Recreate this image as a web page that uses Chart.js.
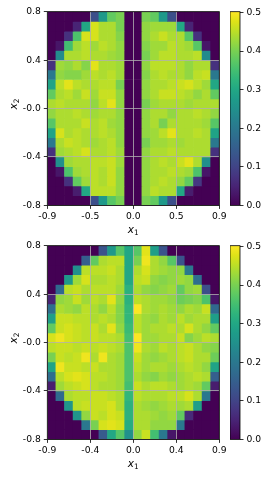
<!DOCTYPE html>
<html>
<head>
<meta charset="utf-8">
<script src="https://cdn.jsdelivr.net/npm/chart.js@4.4.0/dist/chart.umd.min.js"></script>
<style>
body{margin:0;background:#fff;width:270px;height:477px;position:relative;overflow:hidden}
canvas{position:absolute;left:0}
</style>
</head>
<body>
<canvas id="map1" width="270" height="238" style="top:0"></canvas>
<canvas id="cb1" width="40" height="238" style="top:0;left:230px"></canvas>
<canvas id="map2" width="270" height="238" style="top:234px"></canvas>
<canvas id="cb2" width="40" height="238" style="top:234px;left:230px"></canvas>
<script>
// tick labels
var xTicksTop = ['-0.9', '-0.5', '0.0', '0.5', '0.9'];
var xTicksBottom = ['-0.9', '-0.4', '0.0', '0.4', '0.9'];
var yTicks = ['-0.8', '-0.4', '-0.0', '0.4', '0.8'];
var cbMax = 0.502;

// cell values, row 0 = top (x2 = 0.8), column 0 = left (x1 = -0.9)
var topGrid = [
  [0,0,0,0,0,0.12,0.27,0.38,0.40,0,0,0.40,0.38,0.27,0.12,0,0,0,0,0],
  [0,0,0,0.05,0.30,0.47,0.44,0.44,0.40,0,0,0.42,0.43,0.43,0.43,0.30,0.05,0,0,0],
  [0,0,0.07,0.36,0.47,0.47,0.44,0.44,0.41,0,0,0.42,0.44,0.46,0.44,0.44,0.37,0.07,0,0],
  [0,0.03,0.35,0.43,0.45,0.43,0.45,0.44,0.42,0,0,0.41,0.43,0.43,0.45,0.44,0.43,0.37,0.03,0],
  [0,0.24,0.44,0.44,0.45,0.44,0.44,0.43,0.42,0,0,0.40,0.43,0.45,0.45,0.44,0.44,0.45,0.24,0],
  [0.07,0.43,0.42,0.44,0.41,0.48,0.44,0.44,0.43,0,0,0.42,0.45,0.45,0.45,0.44,0.42,0.44,0.44,0.07],
  [0.20,0.42,0.41,0.41,0.43,0.45,0.44,0.45,0.43,0,0,0.41,0.44,0.45,0.44,0.44,0.42,0.45,0.46,0.20],
  [0.29,0.45,0.48,0.45,0.44,0.44,0.45,0.45,0.40,0,0,0.42,0.44,0.44,0.45,0.46,0.47,0.45,0.43,0.30],
  [0.38,0.44,0.45,0.43,0.46,0.43,0.46,0.46,0.42,0,0,0.42,0.44,0.46,0.46,0.45,0.44,0.42,0.44,0.38],
  [0.44,0.45,0.44,0.44,0.44,0.42,0.45,0.48,0.42,0,0,0.40,0.43,0.44,0.44,0.44,0.43,0.44,0.44,0.44],
  [0.42,0.44,0.44,0.45,0.44,0.43,0.44,0.44,0.42,0,0,0.42,0.44,0.44,0.42,0.44,0.44,0.45,0.44,0.42],
  [0.37,0.44,0.44,0.44,0.46,0.44,0.45,0.43,0.42,0,0,0.42,0.44,0.40,0.44,0.44,0.44,0.44,0.43,0.37],
  [0.29,0.47,0.44,0.45,0.44,0.44,0.45,0.44,0.42,0,0,0.42,0.43,0.45,0.48,0.44,0.44,0.45,0.44,0.29],
  [0.20,0.44,0.46,0.45,0.44,0.43,0.44,0.45,0.42,0,0,0.40,0.43,0.43,0.44,0.43,0.44,0.44,0.44,0.20],
  [0.07,0.43,0.44,0.45,0.47,0.44,0.44,0.45,0.43,0,0,0.42,0.44,0.44,0.45,0.44,0.44,0.44,0.44,0.07],
  [0,0.25,0.43,0.44,0.44,0.45,0.45,0.46,0.43,0,0,0.42,0.44,0.45,0.44,0.46,0.48,0.44,0.25,0],
  [0,0.03,0.36,0.43,0.44,0.45,0.44,0.46,0.42,0,0,0.42,0.44,0.44,0.45,0.44,0.43,0.36,0.03,0],
  [0,0,0.07,0.38,0.43,0.45,0.44,0.46,0.42,0,0,0.42,0.44,0.45,0.44,0.42,0.38,0.08,0,0],
  [0,0,0,0.04,0.30,0.45,0.45,0.45,0.42,0,0,0.42,0.45,0.44,0.44,0.30,0.04,0,0,0],
  [0,0,0,0,0,0.12,0.27,0.37,0.40,0,0,0.40,0.38,0.27,0.12,0,0,0,0,0]
];

var bottomGrid = [
  [0,0,0,0,0,0,0.13,0.27,0.37,0.30,0.37,0.48,0.28,0.13,0,0,0,0,0,0],
  [0,0,0,0,0.15,0.38,0.44,0.45,0.45,0.30,0.40,0.49,0.44,0.42,0.37,0.13,0,0,0,0],
  [0,0,0,0.25,0.45,0.45,0.45,0.46,0.44,0.30,0.44,0.47,0.44,0.43,0.42,0.42,0.20,0,0,0],
  [0,0,0.27,0.43,0.47,0.44,0.44,0.45,0.44,0.30,0.45,0.46,0.42,0.41,0.42,0.43,0.42,0.18,0,0],
  [0,0.17,0.45,0.46,0.44,0.45,0.45,0.45,0.43,0.32,0.44,0.42,0.41,0.42,0.43,0.38,0.42,0.43,0.12,0],
  [0.05,0.42,0.43,0.46,0.43,0.45,0.44,0.48,0.42,0.32,0.45,0.44,0.43,0.43,0.42,0.39,0.40,0.41,0.36,0.03],
  [0.18,0.44,0.43,0.42,0.45,0.44,0.42,0.45,0.41,0.33,0.50,0.44,0.43,0.44,0.43,0.42,0.44,0.43,0.46,0.17],
  [0.28,0.46,0.46,0.45,0.45,0.44,0.45,0.44,0.41,0.33,0.45,0.43,0.42,0.44,0.43,0.45,0.43,0.44,0.44,0.28],
  [0.38,0.46,0.47,0.46,0.45,0.46,0.44,0.48,0.42,0.34,0.45,0.43,0.44,0.44,0.45,0.44,0.47,0.44,0.42,0.38],
  [0.47,0.49,0.47,0.46,0.45,0.46,0.45,0.45,0.44,0.35,0.50,0.43,0.43,0.44,0.44,0.46,0.41,0.43,0.45,0.44],
  [0.45,0.46,0.46,0.45,0.46,0.45,0.46,0.45,0.44,0.36,0.49,0.44,0.43,0.45,0.44,0.45,0.46,0.44,0.42,0.41],
  [0.40,0.46,0.45,0.46,0.49,0.44,0.49,0.44,0.43,0.36,0.46,0.43,0.42,0.43,0.44,0.45,0.46,0.44,0.44,0.39],
  [0.29,0.49,0.46,0.46,0.45,0.46,0.44,0.44,0.43,0.36,0.45,0.43,0.44,0.44,0.43,0.44,0.45,0.44,0.42,0.29],
  [0.18,0.45,0.47,0.48,0.47,0.45,0.45,0.44,0.43,0.36,0.44,0.42,0.41,0.43,0.42,0.43,0.44,0.45,0.44,0.15],
  [0.04,0.43,0.45,0.46,0.47,0.45,0.44,0.44,0.43,0.35,0.46,0.44,0.45,0.45,0.44,0.43,0.44,0.43,0.38,0.04],
  [0,0.17,0.44,0.45,0.45,0.46,0.46,0.45,0.44,0.33,0.45,0.44,0.44,0.44,0.45,0.45,0.47,0.44,0.20,0],
  [0,0,0.26,0.45,0.46,0.46,0.46,0.47,0.44,0.32,0.44,0.43,0.42,0.43,0.44,0.43,0.44,0.28,0,0],
  [0,0,0,0.26,0.42,0.46,0.45,0.47,0.46,0.32,0.44,0.44,0.43,0.42,0.43,0.38,0.06,0,0,0],
  [0,0,0,0,0.20,0.40,0.47,0.48,0.47,0.31,0.44,0.44,0.42,0.42,0.42,0.20,0,0,0,0],
  [0,0,0,0,0,0,0.14,0.30,0.37,0.25,0.42,0.46,0.35,0.20,0.03,0,0,0,0,0]
];

// viridis, every 5%
var viridis = ['#440154','#471365','#482475','#463480','#414487','#3b528b','#355f8d','#2f6c8e',
  '#2a788e','#25848e','#21918c','#1e9c89','#22a884','#2fb47c','#44bf70','#5ec962',
  '#7ad151','#9bd93c','#bddf26','#dfe318','#fde725'];

function hexRgb(h) {
  return [parseInt(h.substr(1, 2), 16), parseInt(h.substr(3, 2), 16), parseInt(h.substr(5, 2), 16)];
}

function viridisColor(v) {
  var t = Math.max(0, Math.min(1, v / cbMax)) * (viridis.length - 1);
  var i = Math.min(Math.floor(t), viridis.length - 2);
  var f = t - i;
  var a = hexRgb(viridis[i]), b = hexRgb(viridis[i + 1]);
  var rgb = a.map(function(x, k) { return Math.round(x + (b[k] - x) * f); });
  return 'rgb(' + rgb.join(',') + ')';
}

Chart.defaults.font.family = 'DejaVu Sans';
Chart.defaults.font.size = 9.2;
Chart.defaults.color = '#000';

// one floating-bar dataset per row of cells
function rowsToDatasets(grid) {
  var n = grid.length;
  return grid.map(function(row, r) {
    return {
      data: row.map(function(v, c) { return {x: c + 0.5, y: [n - 1 - r, n - r]}; }),
      backgroundColor: row.map(viridisColor),
      borderWidth: 0,
      grouped: false,
      barPercentage: 1,
      categoryPercentage: 1
    };
  });
}

var frame = {
  id: 'frame',
  afterDraw: function(ch) {
    var a = ch.chartArea, c = ch.ctx;
    c.save();
    c.strokeStyle = '#000';
    c.lineWidth = 0.8;
    c.strokeRect(a.left, a.top, a.right - a.left, a.bottom - a.top);
    c.restore();
  }
};

var axisTitles = {
  id: 'axisTitles',
  afterDraw: function(ch) {
    var c = ch.ctx, a = ch.chartArea;
    var big = 'italic 10.5px DejaVu Sans', small = '7.4px DejaVu Sans';
    c.save();
    c.fillStyle = '#000';
    c.textBaseline = 'alphabetic';
    c.textAlign = 'left';
    // x1
    c.font = big;
    var w1 = c.measureText('x').width;
    c.font = small;
    var w2 = c.measureText('1').width;
    var x0 = (a.left + a.right) / 2 - (w1 + w2) / 2;
    c.font = big;
    c.fillText('x', x0, 232.8);
    c.font = small;
    c.fillText('1', x0 + w1, 235);
    // x2, rotated
    c.translate(16.5, 104);
    c.rotate(-Math.PI / 2);
    var s = -(w1 + w2) / 2;
    c.font = big;
    c.fillText('x', s, 0);
    c.font = small;
    c.fillText('2', s + w1, 2.2);
    c.restore();
  }
};

function makeMap(id, grid, xLabels) {
  var gridOpts = {offset: false, z: 1, color: '#b0b0b0', lineWidth: 0.8, tickColor: '#000', tickLength: 3.5, tickWidth: 0.8};
  return new Chart(document.getElementById(id), {
    type: 'bar',
    data: {datasets: rowsToDatasets(grid)},
    options: {
      responsive: false,
      animation: false,
      devicePixelRatio: 1,
      layout: {padding: {left: 0, right: 50.7, top: 11.7, bottom: 0}},
      plugins: {legend: {display: false}, tooltip: {enabled: false}},
      scales: {
        x: {
          type: 'linear', min: 0, max: 20, offset: false, z: 1,
          grid: gridOpts,
          border: {display: false},
          ticks: {stepSize: 5, padding: 2, maxRotation: 0, autoSkip: false,
            callback: function(v) { return xLabels[v / 5]; }},
          afterFit: function(s) { s.height = 32.6; }
        },
        y: {
          type: 'linear', min: 0, max: 20, z: 1,
          grid: gridOpts,
          border: {display: false},
          ticks: {stepSize: 5, padding: 3, autoSkip: false,
            callback: function(v) { return yTicks[v / 5]; }},
          afterFit: function(s) { s.width = 47.3; }
        }
      }
    },
    plugins: [frame, axisTitles]
  });
}

function cbGradient(ctx) {
  var ch = ctx.chart;
  if (!ch.chartArea) return viridis[10];
  var y = ch.scales.y;
  var g = ch.ctx.createLinearGradient(0, y.getPixelForValue(0), 0, y.getPixelForValue(cbMax));
  viridis.forEach(function(col, i) { g.addColorStop(i / (viridis.length - 1), col); });
  return g;
}

function makeColorbar(id) {
  return new Chart(document.getElementById(id), {
    type: 'bar',
    data: {labels: [''], datasets: [{data: [[0, cbMax]], backgroundColor: cbGradient,
      borderWidth: 0, barPercentage: 1, categoryPercentage: 1}]},
    options: {
      responsive: false,
      animation: false,
      devicePixelRatio: 1,
      layout: {padding: {left: 0, right: 0, top: 11.7, bottom: 32.5}},
      plugins: {legend: {display: false}, tooltip: {enabled: false}},
      scales: {
        x: {display: false},
        y: {
          position: 'right', min: 0, max: cbMax,
          grid: {drawOnChartArea: false, tickColor: '#000', tickLength: 3.5, tickWidth: 0.8},
          border: {display: false},
          ticks: {stepSize: 0.1, includeBounds: false, padding: 3,
            callback: function(v) { return v.toFixed(1); }},
          afterFit: function(s) { s.width = 30; }
        }
      }
    },
    plugins: [frame]
  });
}

makeMap('map1', topGrid, xTicksTop);
makeColorbar('cb1');
makeMap('map2', bottomGrid, xTicksBottom);
makeColorbar('cb2');
</script>
</body>
</html>
